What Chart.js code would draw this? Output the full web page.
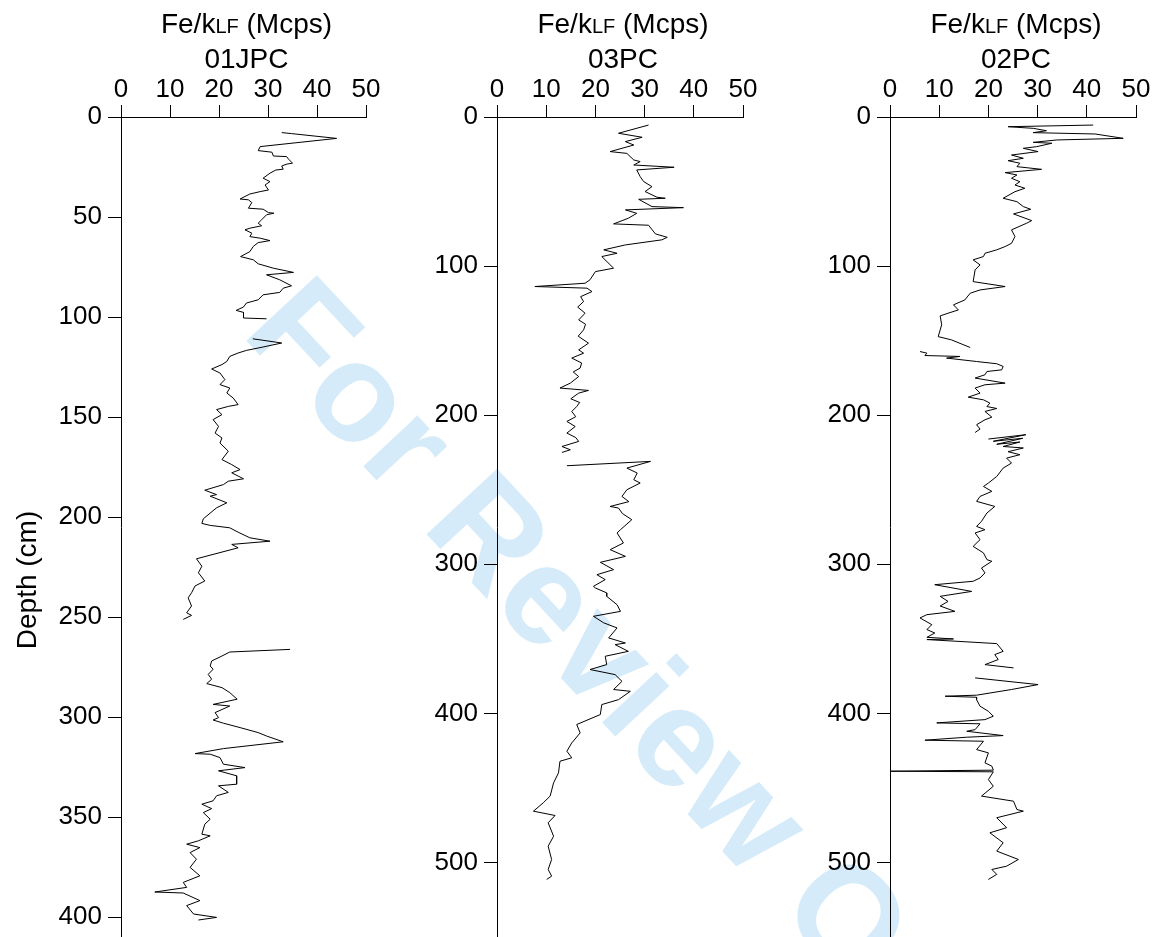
<!DOCTYPE html>
<html>
<head>
<meta charset="utf-8">
<script src="https://cdn.jsdelivr.net/npm/chart.js@4.4.1/dist/chart.umd.min.js"></script>
<style>
html, body { margin: 0; padding: 0; background: #fff; overflow: hidden; }
#stage { position: relative; width: 1154px; height: 937px; overflow: hidden; }
#stage canvas { position: absolute; top: 0; }
#stamp { position: absolute; left: 0; top: 0; }
</style>
</head>
<body>
<div id="stage">
  <svg id="stamp" width="1154" height="937">
    <text transform="translate(240,334) rotate(47)" font-family="Liberation Sans, Arial, sans-serif"
          font-weight="bold" font-size="140" fill="#d5ebf9">For Review Only</text>
  </svg>
  <canvas id="core01" width="390" height="980" style="left:0"></canvas>
  <canvas id="core03" width="390" height="980" style="left:380px"></canvas>
  <canvas id="core02" width="384" height="980" style="left:770px"></canvas>
</div>
<script>
// [depth (cm), Fe/kLF (Mcps)] per core; null marks a gap between core sections
const core01 = [
  [7.8,32.8],[8.3,34.8],[10.7,44.0],[14.8,28.4],[16.8,28.0],[17.6,30.8],[19.5,31.1],[19.8,33.8],
  [21.1,34.2],[23.1,35.0],[23.5,33.9],[24.5,32.8],[26.1,33.1],[26.5,31.6],[28.1,30.4],[30.6,29.0],
  [32.3,30.4],[34.0,29.4],[36.5,30.1],[37.3,28.4],[38.5,26.3],[41.0,24.3],[41.4,26.0],[42.8,26.7],
  [45.6,26.0],[46.1,29.0],[47.8,30.1],[48.1,31.2],[48.9,29.7],[51.4,28.7],[53.1,28.0],[54.4,28.7],
  [55.6,26.3],[56.4,25.3],[58.1,26.7],[59.8,26.3],[60.6,28.4],[61.8,30.4],[62.8,28.0],[64.7,27.0],
  [67.3,26.3],[69.8,24.4],[71.4,27.0],[73.4,28.0],[75.6,31.1],[77.7,35.2],[78.9,29.7],[81.4,32.4],
  [84.4,34.8],[85.6,33.1],[87.7,32.4],[88.9,29.0],[91.4,28.0],[93.0,25.6],[95.0,25.0],[96.7,23.5],
  [97.7,25.0],[100.5,25.0],[100.9,29.7],
  null,
  [110.9,26.9],[113.0,32.8],[115.0,29.0],[116.7,25.6],[118.0,23.9],[119.7,22.2],[122.2,21.6],[123.8,20.6],
  [126.0,18.5],[128.0,20.2],[131.3,21.2],[133.8,20.2],[135.5,22.2],[138.0,21.6],[140.5,22.9],[143.8,23.9],
  [144.7,21.9],[146.3,19.5],[148.8,20.6],[151.3,18.8],[154.7,19.9],[158.0,19.2],[160.5,20.6],[163.0,20.2],
  [167.1,21.9],[171.3,20.6],[173.8,22.6],[176.3,24.3],[177.9,22.6],[180.9,25.0],[182.1,21.9],[183.8,20.9],
  [186.6,17.1],[188.8,19.5],[189.6,18.2],[192.9,21.6],[195.4,19.5],[200.9,16.8],[203.2,16.5],[204.2,18.2],
  [205.4,22.2],[207.6,23.9],[210.4,26.3],[212.1,30.4],[213.7,22.6],[215.4,23.9],[220.9,15.4],[224.6,16.5],
  [227.9,15.8],[232.0,17.1],[234.5,15.1],[237.9,14.4],[240.4,13.7],[244.5,14.4],[247.9,13.4],[249.2,14.4],
  [251.2,12.7],
  null,
  [266.2,34.5],[267.5,22.2],[269.5,20.6],[272.0,18.5],[274.5,18.2],[276.1,18.8],[278.7,17.8],[281.1,18.5],
  [283.3,17.5],[285.3,20.6],[287.8,22.2],[291.1,23.7],[293.7,18.8],[294.5,22.2],[297.8,19.2],[300.3,19.9],
  [301.5,18.8],[303.1,20.9],[305.3,24.3],[307.8,28.0],[309.5,29.7],[312.4,33.1],[315.8,20.9],[318.3,15.1],
  [318.6,18.2],[320.3,20.2],[323.6,20.9],[325.3,25.3],[326.9,19.9],[329.4,23.6],[333.6,23.6],[334.4,19.9],
  [337.7,21.9],[339.4,19.5],[341.9,18.8],[343.6,16.5],[345.8,18.5],[347.8,16.8],[351.1,18.2],[353.6,17.1],
  [358.6,16.5],[359.4,18.2],[361.9,15.8],[363.6,13.4],[365.3,16.1],[367.8,14.1],[371.1,15.4],[375.2,14.1],
  [379.4,16.1],[382.7,12.7],[385.2,13.4],[387.5,6.9],[388.0,12.7],[391.8,16.1],[394.3,13.4],[398.5,14.8],
  [400.2,19.5],[401.5,15.8]
];

const core03 = [
  [5.4,30.8],[10.9,24.7],[13.6,29.5],[16.5,26.1],[18.8,27.8],[23.2,23.0],[24.4,26.4],[28.8,27.8],
  [29.9,29.1],[32.2,27.8],[33.7,36.0],[35.5,28.4],[40.0,29.1],[43.3,29.8],[46.7,31.5],[50.0,30.1],
  [53.8,32.5],[54.5,34.2],[55.2,28.8],[60.1,31.5],[60.8,37.9],[62.3,26.1],[64.6,28.4],[67.9,26.7],
  [71.7,23.7],[72.6,30.8],[78.4,32.2],[80.7,34.6],[82.4,33.5],[85.8,26.1],[89.1,21.7],[91.4,24.4],
  [93.6,21.3],[101.4,23.7],[103.7,20.0],[109.2,18.9],[111.5,17.9],[113.7,7.7],[114.8,18.3],[117.1,19.3],
  [120.5,17.0],[123.8,17.6],[127.5,16.4],[131.6,17.9],[136.1,16.6],[139.0,18.0],[142.8,17.6],[147.0,16.5],
  [151.7,18.6],[156.2,16.6],[158.4,17.6],[161.7,15.2],[165.0,17.2],[168.4,16.9],[171.0,15.5],[174.1,16.6],
  [178.5,14.9],[181.8,12.8],[183.4,18.6],[185.2,16.6],[189.0,15.0],[191.5,16.8],[194.2,16.2],[197.5,15.2],
  [201.0,16.0],[204.2,14.2],[207.6,15.9],[212.0,14.2],[215.0,16.0],[217.6,16.6],[221.0,13.2],[223.2,14.9],
  [225.0,13.2],
  null,
  [233.9,14.2],[231.0,31.2],[235.5,26.4],[238.8,28.5],[243.3,27.8],[245.5,29.1],[250.0,26.4],[254.5,25.4],
  [258.0,26.8],[261.2,23.0],[262.3,24.7],[266.0,25.5],[270.1,27.4],[276.8,25.1],[279.0,24.4],[285.7,25.7],
  [290.2,23.0],[294.7,26.1],[298.7,21.0],[303.6,23.7],[307.0,20.3],[310.3,22.0],[314.8,19.6],[315.9,20.0],
  [319.2,22.3],[321.5,22.3],[327.1,24.4],[331.6,25.1],[334.9,19.6],[339.3,21.7],[342.7,24.4],[349.4,22.7],
  [352.8,26.1],[353.9,24.0],[358.4,26.7],[361.7,22.0],[367.3,22.3],[370.6,18.9],[374.0,24.0],[378.5,25.4],
  [384.0,23.7],[385.2,27.1],[390.8,24.7],[394.1,21.3],[400.8,21.0],[407.5,16.2],[413.1,16.9],[419.8,15.2],
  [425.4,14.2],[429.8,15.2],[432.1,12.8],[439.9,12.5],[446.6,11.5],[455.5,10.8],[460.0,9.4],[465.6,7.4],
  [468.5,11.8],[473.4,10.4],[482.4,11.5],[489.1,10.4],[498.0,11.1],[504.7,10.4],[509.2,11.1],[511.4,10.1]
];

const core02 = [
  [5.4,41.3],[6.5,24.0],[7.6,29.1],[9.2,31.8],[10.5,29.1],[11.4,41.7],[14.3,47.4],[15.4,33.9],
  [17.0,29.1],[17.6,32.9],[19.9,29.8],[21.0,27.1],[23.2,30.1],[25.5,24.7],[27.7,27.1],[29.3,24.0],
  [31.0,26.4],[33.3,25.8],[35.1,30.8],[37.3,23.4],[38.9,25.8],[41.1,24.7],[43.4,26.4],[45.6,25.4],
  [47.8,27.4],[50.1,25.4],[54.5,23.0],[56.8,25.8],[60.1,27.1],[61.9,28.6],[65.0,25.1],[69.5,28.8],
  [71.2,27.8],[75.7,24.7],[80.2,25.4],[84.7,24.7],[86.9,23.4],[89.1,21.7],[91.4,19.3],[93.6,19.0],
  [95.8,16.9],[99.2,18.3],[102.5,17.3],[110.4,16.9],[113.7,23.4],[116.0,18.3],[118.2,16.3],[122.7,15.2],
  [126.0,12.9],[129.4,13.9],[131.6,11.8],[133.4,10.2],[139.4,10.5],[147.3,9.8],[149.5,12.5],[154.6,16.3],
  null,
  [157.3,6.1],[158.4,7.5],[160.0,7.1],[160.6,14.2],[161.7,11.5],[164.0,17.6],[165.5,21.7],[167.3,23.0],
  [169.6,22.7],[170.7,19.7],[172.9,19.3],[175.1,17.3],[178.5,23.4],[179.6,19.3],[181.8,17.3],[185.2,18.3],
  [187.9,15.9],[189.7,19.0],[191.9,20.3],[194.2,19.7],[195.5,21.7],[197.5,19.3],[201.3,20.7],[203.1,19.3],
  [206.4,17.6],[209.3,18.3],[211.6,17.3],
  null,
  [216.0,20.0],[213.1,27.6],[217.5,21.0],[215.5,27.0],[219.5,21.7],[218.0,26.4],[221.0,23.0],[222.0,27.1],
  [224.5,24.0],[226.5,26.4],[228.8,23.7],[232.1,24.7],[235.5,23.0],[241.1,21.7],[245.5,20.0],[247.8,19.0],
  [251.1,20.7],[254.5,18.3],[257.8,17.6],[261.2,21.3],[265.6,19.7],[271.2,18.6],[274.6,17.6],[276.8,19.3],
  [279.0,17.3],[283.5,18.3],[288.0,16.9],[292.4,19.0],[296.9,19.7],[298.0,20.7],[302.5,18.6],[305.8,19.3],
  [309.2,18.3],[311.4,16.9],[313.7,9.1],[318.2,16.6],[321.5,10.2],[324.9,11.8],[328.0,10.2],[331.6,13.2],
  [333.8,7.5],[336.0,6.1],[340.5,8.5],[343.8,7.5],[346.1,9.1],[349.0,7.5],[350.1,12.9],[350.5,7.5],
  [353.2,21.7],[358.4,23.0],[360.6,21.3],[363.9,22.0],[367.3,19.3],[369.5,25.1],
  null,
  [376.2,17.3],[380.7,30.1],[384.0,24.7],[387.8,17.6],[388.5,11.2],[389.2,17.6],[390.8,17.6],[395.2,18.3],
  [398.6,20.0],[401.9,21.0],[404.2,19.3],[406.4,9.5],[407.0,18.3],[410.9,17.3],[412.0,15.6],[414.9,23.0],
  [416.0,15.6],[418.0,7.1],[418.7,19.0],[424.3,17.6],[426.5,20.0],[433.2,19.3],[435.4,20.7],[438.1,21.0],
  [438.8,0],[439.2,21.0],[444.4,20.0],[448.9,21.0],[455.5,18.6],[458.9,25.1],[464.5,25.8],[465.6,27.1],
  [470.0,21.7],[476.7,23.7],[480.1,20.3],[486.8,23.0],[492.4,21.7],[498.0,26.1],[502.5,23.7],[504.7,20.7],
  [508.0,21.7],[511.4,20.0]
];

const feTicks = [0, 10, 20, 30, 40, 50];
const depthTicks01 = [0, 50, 100, 150, 200, 250, 300, 350, 400];
const depthTicksPC = [0, 100, 200, 300, 400, 500];

Chart.defaults.font.family = '"Liberation Sans", Arial, Helvetica, sans-serif';
Chart.defaults.color = '#000';

// Two-line header above each panel, with "LF" set small
const headerPlugin = {
  id: 'coreHeader',
  afterDraw(chart, args, opts) {
    const { ctx, chartArea } = chart;
    const cx = (chartArea.left + chartArea.right) / 2 + 3;
    const big = '28px "Liberation Sans", Arial, sans-serif';
    const small = '20px "Liberation Sans", Arial, sans-serif';
    const parts = [['Fe/k', big], ['LF', small], [' (Mcps)', big]];
    ctx.save();
    ctx.fillStyle = '#000';
    ctx.textBaseline = 'alphabetic';
    ctx.textAlign = 'left';
    let total = 0;
    parts.forEach(p => { ctx.font = p[1]; total += ctx.measureText(p[0]).width; });
    let x = cx - total / 2;
    parts.forEach(p => {
      ctx.font = p[1];
      ctx.fillText(p[0], x, 33);
      x += ctx.measureText(p[0]).width;
    });
    ctx.font = big;
    ctx.textAlign = 'center';
    ctx.fillText(opts.name, cx, 68);
    if (opts.depthTitle) {
      ctx.translate(28, 580);
      ctx.rotate(-Math.PI / 2);
      ctx.textBaseline = 'middle';
      ctx.fillText('Depth (cm)', 0, 0);
    }
    ctx.restore();
  }
};

function drawCore(id, rows, yMax, yTicks, name, yWidth, padRight, depthTitle) {
  const points = rows.map(r => r ? { x: r[1], y: r[0] } : { x: null, y: null });
  new Chart(document.getElementById(id), {
    type: 'scatter',
    data: {
      datasets: [{
        data: points,
        showLine: true,
        spanGaps: false,
        borderColor: '#000',
        borderWidth: 1,
        pointRadius: 0,
        fill: false
      }]
    },
    options: {
      responsive: false,
      animation: false,
      // chart area runs to y = 937, the canvas continues below the visible page
      layout: { padding: { left: 0, right: padRight, top: 0, bottom: 43 } },
      plugins: {
        legend: { display: false },
        tooltip: { enabled: false },
        coreHeader: { name: name, depthTitle: depthTitle }
      },
      scales: {
        x: {
          type: 'linear',
          position: 'top',
          min: 0,
          max: 50,
          afterBuildTicks: s => { s.ticks = feTicks.map(v => ({ value: v })); },
          afterFit: s => { s.height = 117; },
          ticks: { font: { size: 26 }, padding: 0, maxRotation: 0, color: '#000' },
          grid: { drawOnChartArea: false, tickLength: 12, color: '#000' },
          border: { color: '#000', width: 1 }
        },
        y: {
          type: 'linear',
          reverse: true,
          min: 0,
          max: yMax,
          afterBuildTicks: s => { s.ticks = yTicks.map(v => ({ value: v })); },
          afterFit: s => { s.width = yWidth; },
          ticks: { font: { size: 26 }, padding: 6, color: '#000', autoSkip: false },
          grid: { drawOnChartArea: false, tickLength: 13, color: '#000' },
          border: { color: '#000', width: 1 }
        }
      }
    },
    plugins: [headerPlugin]
  });
}

drawCore('core01', core01, 410, depthTicks01, '01JPC', 121, 24, true);
drawCore('core03', core03, 550, depthTicksPC, '03PC', 117, 27, false);
drawCore('core02', core02, 550, depthTicksPC, '02PC', 120, 18, false);
</script>
</body>
</html>
